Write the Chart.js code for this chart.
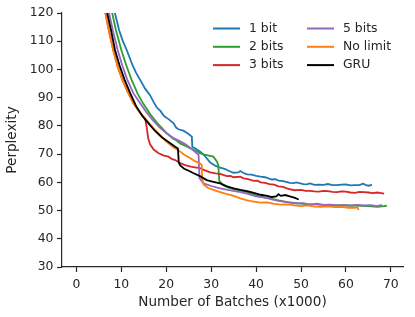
<!DOCTYPE html>
<html lang="en">
<head>
  <meta charset="UTF-8" />
  <title>Perplexity vs batches</title>
  <script src="https://cdn.jsdelivr.net/npm/chart.js"></script>
  <style>
    body { margin: 0; background: #fff; }
    canvas { display: block; }
  </style>
</head>
<body>
  <canvas id="ppl" width="415" height="317"></canvas>

  <script>
    // series: [batches (x1000), perplexity]
    const labels = ['1 bit', '2 bits', '3 bits', '5 bits', 'No limit', 'GRU'];
    const colors = ['#1f77b4', '#2ca02c', '#d62728', '#9467bd', '#ff7f0e', '#000000'];

    const bit1 = [[8.5,120.5],[9.5,114],[10.3,110.2],[11.2,106.9],[12.5,101.5],[13.3,98.8],[14.2,96.3],[15.3,93.2],[16.4,90.9],[17.2,88.4],[17.9,86.5],[18.7,85.3],[19.5,83.5],[20.5,82.4],[21.6,81],[22.2,79.4],[22.7,78.8],[23.8,78.3],[24.9,77.2],[25.7,76.2],[25.8,72.6],[26.4,72.1],[27.5,70.9],[28.5,69.5],[29.8,67],[31,65.8],[32,65.2],[33,64.8],[34,64.0],[35,63.4],[36,63.5],[36.5,64.0],[37.2,63.3],[38,62.8],[39,62.7],[40,62.3],[41,62.0],[42,61.8],[43.5,61.0],[44.3,61.1],[45,60.6],[46,60.4],[47.5,59.8],[48.3,59.7],[49,60.0],[50.5,59.4],[51.3,59.3],[52,59.6],[53,59.1],[54,59.2],[55,59.1],[56,59.4],[57,59.0],[58,59.0],[59,59.2],[60,59.3],[61,58.9],[62,59.0],[63,59.0],[63.8,59.5],[64.5,59.0],[65,58.8],[65.8,59.1]];
    const bit2 = [[7.9,120.5],[8.8,114],[10,106.9],[11.1,101.5],[12.3,96.3],[13.6,91.5],[14.9,87.8],[16.5,84],[18,81],[19,79.3],[20.1,77.4],[21.5,75.5],[22.3,74.8],[23.1,73.8],[24.2,73.0],[25.3,72.1],[26.8,71.0],[27.5,70.3],[28.5,69.8],[29.5,69.5],[30.5,69.1],[31.3,67.3],[31.6,66],[31.8,60.5],[32.7,59.0],[34,58],[36,57.2],[38,56.5],[40,55.4],[42,54.6],[43.1,54.3],[45,53.6],[47,53.0],[49,52.6],[51,52.3],[53,52.2],[55,52.0],[57,51.9],[59,51.8],[61,51.8],[63,51.7],[65,51.6],[67,51.3],[68,51.5],[69.1,51.7]];
    const bit3 = [[6.4,120.5],[7.2,114],[8.2,106.9],[9.2,101],[10.2,96.5],[11.3,92.5],[12.7,88],[14,85],[15.3,82.5],[15.6,80],[16.0,75.5],[16.4,73.5],[17.2,71.6],[18.3,70.3],[19.5,69.5],[20.5,69.1],[21.2,68.3],[22,67.9],[23.1,66.8],[24.2,66.1],[25.5,65.6],[26.4,65.3],[27.5,65.0],[28.5,64.3],[29.8,63.5],[31,63.2],[32,63.0],[33.5,62.2],[34.3,62.3],[35,61.8],[36.5,62.0],[37.2,61.4],[38,61.2],[39.5,60.5],[40.3,60.6],[41,60.0],[42,59.8],[43,59.4],[44,59.2],[45,58.6],[46,58.4],[47,57.8],[48.5,57.2],[50,57.3],[51,57.0],[52,57.0],[53,56.8],[54,56.7],[55,57.0],[56,56.9],[57,56.6],[58,56.5],[59,56.8],[60,56.7],[61,56.4],[62,56.3],[63,56.6],[64,56.5],[65,56.4],[66,56.2],[67,56.4],[67.5,56.3],[68.5,56.0]];
    const bit5 = [[7.2,120.5],[8.1,114],[9.2,106.9],[10.2,101.5],[11.3,96.5],[12.7,91.5],[14.2,88],[15.5,85],[17,82],[18.5,79.5],[20,77.5],[21.5,75.8],[23,74.6],[24.2,73.6],[25.3,72.3],[26.4,70.8],[27.2,69.8],[27.4,61.5],[28.3,59.6],[30,58.7],[32,57.9],[34,57.2],[36.5,56.5],[38,56],[40,55],[42,54.6],[43.5,54.0],[45,53.4],[47.5,52.8],[49,52.5],[50.5,52.6],[52,52.1],[53.5,52.4],[55,52.0],[56.5,52.1],[58,51.8],[59.5,52.0],[61,51.7],[62.5,52.0],[64,51.8],[65.5,51.9],[67,51.6],[68,52.0]];
    const noLimit = [[6.4,120.5],[7.2,114],[8.2,106.9],[9.2,101],[10.2,96.5],[11.3,92.5],[12.7,88],[14,85],[15.5,82.3],[17,79.5],[18.5,77],[20,74.5],[21.5,72.5],[22.7,71.4],[24,69.8],[25.3,68.6],[26.4,67.5],[27.5,66.7],[27.9,66.2],[28.0,61.4],[28.3,59.2],[29.3,58],[30.5,57.3],[32,56.5],[33.5,55.8],[35,55.2],[36.5,54.3],[38,53.6],[39.5,53.2],[41,52.8],[42.5,52.9],[44,52.4],[45.5,52.1],[47,52.2],[48.5,51.8],[50,51.6],[51.5,51.8],[53,51.4],[54.5,51.3],[56,51.5],[57.5,51.2],[59,51.3],[60.5,51.0],[62,51.0],[62.6,51.1],[62.8,50.2]];
    const gru = [[6.8,120.5],[7.7,114],[8.6,106.9],[9.6,101.5],[10.7,96.5],[12,91.5],[13.3,87],[14.7,83.5],[16,81],[17.5,78.2],[19,76],[20.5,74.3],[22,72.6],[22.6,72.0],[22.8,67],[23.1,66],[24,64.8],[24.9,64.2],[26,63.3],[27.5,62.2],[29,60.8],[30.5,60.2],[32,59.6],[33.5,58.6],[35,57.9],[36.5,57.3],[38,56.9],[39.5,56.3],[41,55.6],[42.5,55.2],[43.5,54.8],[44.5,55.0],[45,55.8],[45.5,55.2],[46.5,55.5],[47.5,55.0],[48.5,54.6],[49.5,53.9]];

    const xTicks = [0, 10, 20, 30, 40, 50, 60, 70];
    const yTicks = [30, 40, 50, 60, 70, 80, 90, 100, 110, 120];

    const series = [bit1, bit2, bit3, bit5, noLimit, gru];
    const ink = '#262626';
    const fontFamily = "'DejaVu Sans', sans-serif";

    // matplotlib-style legend: two columns, three rows, inside the axes
    const legendBox = {
      id: 'legendBox',
      afterDraw(chart) {
        const ctx = chart.ctx;
        ctx.save();
        ctx.font = '12.4px ' + fontFamily;
        ctx.textBaseline = 'middle';
        ctx.fillStyle = ink;
        chart.data.datasets.forEach((ds, i) => {
          const col = Math.floor(i / 3), row = i % 3;
          const x0 = 213 + col * 94;
          const y = 28.5 + row * 18.3;
          ctx.strokeStyle = ds.borderColor;
          ctx.lineWidth = 2;
          ctx.beginPath();
          ctx.moveTo(x0, y);
          ctx.lineTo(x0 + 27, y);
          ctx.stroke();
          ctx.fillText(ds.label, x0 + 36, y);
        });
        ctx.restore();
      }
    };

    new Chart(document.getElementById('ppl'), {
      type: 'line',
      data: {
        datasets: series.map((d, i) => ({
          label: labels[i],
          data: d,
          borderColor: colors[i],
          borderWidth: 1.8,
          pointRadius: 0,
          tension: 0,
          order: series.length - i
        }))
      },
      options: {
        responsive: false,
        animation: false,
        devicePixelRatio: 1,
        layout: { padding: { top: 13, right: 12, left: 0, bottom: 0 } },
        plugins: { legend: { display: false }, tooltip: { enabled: false } },
        scales: {
          x: {
            type: 'linear',
            min: -3.2,
            max: 72.7,
            afterBuildTicks: s => { s.ticks = xTicks.map(v => ({ value: v })); },
            afterFit: s => { s.height = 50; },
            grid: { drawOnChartArea: false, drawTicks: true, tickLength: 5, tickColor: ink, tickWidth: 1.2 },
            border: { color: ink, width: 1.2 },
            ticks: { color: ink, font: { family: fontFamily, size: 12.4 }, padding: 5, maxRotation: 0 },
            title: { display: true, text: 'Number of Batches (x1000)', color: ink,
                     font: { family: fontFamily, size: 13.6 }, padding: { top: 0, bottom: 6.8 } }
          },
          y: {
            min: 30,
            max: 120,
            afterBuildTicks: s => { s.ticks = yTicks.map(v => ({ value: v })); },
            afterFit: s => { s.width = 62; },
            grid: { drawOnChartArea: false, drawTicks: true, tickLength: 5, tickColor: ink, tickWidth: 1.2 },
            border: { color: ink, width: 1.2 },
            ticks: { color: ink, font: { family: fontFamily, size: 12.4 }, padding: 3.5 },
            title: { display: true, text: 'Perplexity', color: ink,
                     font: { family: fontFamily, size: 13.6 }, padding: { top: 4.3, bottom: 0 } }
          }
        }
      },
      plugins: [legendBox]
    });
  </script>
</body>
</html>
